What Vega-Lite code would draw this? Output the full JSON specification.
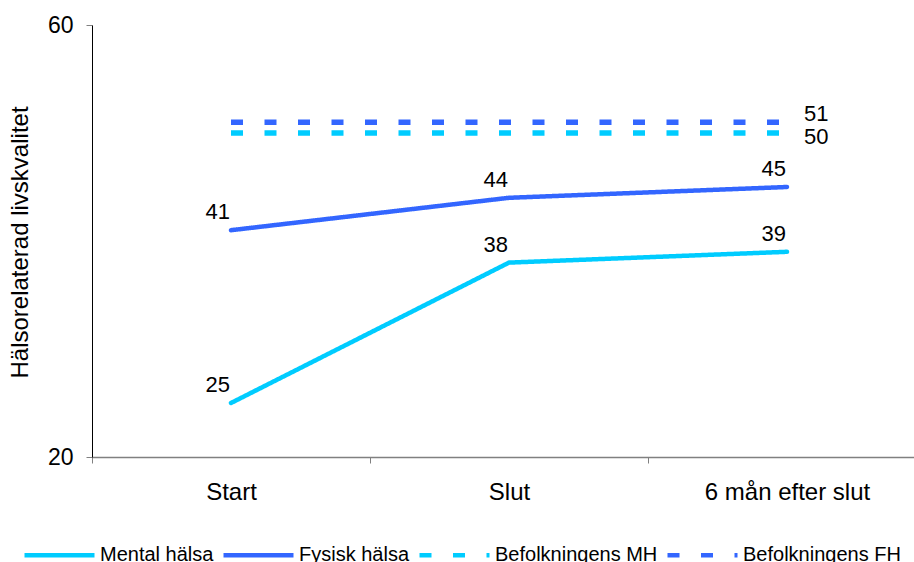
{
  "$schema": "https://vega.github.io/schema/vega-lite/v6.json",
  "width": 822,
  "height": 432,
  "autosize": "none",
  "padding": {"left": 92, "top": 25, "right": 0, "bottom": 105},
  "background": "white",
  "config": {
    "font": "Liberation Sans",
    "view": {"stroke": null},
    "text": {"color": "black"},
    "legend": {
      "orient": "none",
      "legendX": -70,
      "legendY": 492.5,
      "direction": "horizontal",
      "symbolType": "stroke",
      "symbolSize": 4900,
      "symbolStrokeWidth": 4.5,
      "labelFontSize": 20,
      "labelColor": "black",
      "labelOffset": 3,
      "labelLimit": 0,
      "columnPadding": 0,
      "padding": 0
    }
  },
  "data": {
    "values": [
      {"serie": "Mental hälsa", "tid": "Start", "varde": 25},
      {"serie": "Mental hälsa", "tid": "Slut", "varde": 38},
      {"serie": "Mental hälsa", "tid": "6 mån efter slut", "varde": 39},
      {"serie": "Fysisk hälsa", "tid": "Start", "varde": 41},
      {"serie": "Fysisk hälsa", "tid": "Slut", "varde": 44},
      {"serie": "Fysisk hälsa", "tid": "6 mån efter slut", "varde": 45},
      {"serie": "Befolkningens MH", "tid": "Start", "varde": 50},
      {"serie": "Befolkningens MH", "tid": "Slut", "varde": 50},
      {"serie": "Befolkningens MH", "tid": "6 mån efter slut", "varde": 50},
      {"serie": "Befolkningens FH", "tid": "Start", "varde": 51},
      {"serie": "Befolkningens FH", "tid": "Slut", "varde": 51},
      {"serie": "Befolkningens FH", "tid": "6 mån efter slut", "varde": 51}
    ]
  },
  "encoding": {
    "x": {
      "field": "tid",
      "type": "nominal",
      "sort": ["Start", "Slut", "6 mån efter slut"],
      "scale": {"type": "band", "range": [0, 834], "paddingInner": 0, "paddingOuter": 0},
      "axis": {
        "title": null,
        "labelAngle": 0,
        "labelFontSize": 24,
        "labelColor": "black",
        "labelPadding": 17,
        "domainColor": "#808080",
        "domainWidth": 1.5,
        "tickColor": "#808080",
        "tickSize": 6,
        "tickBand": "extent",
        "grid": false
      }
    },
    "y": {
      "field": "varde",
      "type": "quantitative",
      "scale": {"domain": [20, 60], "nice": false, "zero": false},
      "axis": {
        "title": "Hälsorelaterad livskvalitet",
        "titleFontSize": 24,
        "titleFontWeight": "normal",
        "titleColor": "black",
        "titleX": -72,
        "titleY": 217,
        "titleBaseline": "middle",
        "titleAlign": "center",
        "values": [20, 60],
        "labelFontSize": 23,
        "labelColor": "black",
        "labelPadding": 13,
        "domainColor": "black",
        "domainWidth": 1,
        "tickColor": "#808080",
        "tickSize": 6,
        "grid": false
      }
    }
  },
  "layer": [
    {
      "transform": [{"filter": {"field": "serie", "oneOf": ["Befolkningens MH", "Befolkningens FH"]}}],
      "mark": {"type": "line", "strokeWidth": 5.5, "strokeCap": "butt"},
      "encoding": {
        "color": {
          "field": "serie",
          "type": "nominal",
          "title": null,
          "scale": {
            "domain": ["Mental hälsa", "Fysisk hälsa", "Befolkningens MH", "Befolkningens FH"],
            "range": ["#00CCFF", "#3366FF", "#00CCFF", "#3366FF"]
          }
        },
        "strokeDash": {
          "field": "serie",
          "type": "nominal",
          "title": null,
          "scale": {
            "domain": ["Mental hälsa", "Fysisk hälsa", "Befolkningens MH", "Befolkningens FH"],
            "range": [[1, 0], [1, 0], [12, 21.5], [12, 21.5]]
          }
        }
      }
    },
    {
      "transform": [{"filter": {"field": "serie", "oneOf": ["Mental hälsa", "Fysisk hälsa"]}}],
      "mark": {"type": "line", "strokeWidth": 4.5, "strokeCap": "round", "strokeJoin": "round"},
      "encoding": {
        "color": {"field": "serie", "type": "nominal", "title": null},
        "strokeDash": {"field": "serie", "type": "nominal", "title": null}
      }
    },
    {
      "transform": [{"filter": {"field": "serie", "oneOf": ["Mental hälsa", "Fysisk hälsa"]}}],
      "mark": {"type": "text", "align": "right", "baseline": "alphabetic", "dx": -1, "dy": -11, "fontSize": 22},
      "encoding": {"text": {"field": "varde", "type": "quantitative"}}
    },
    {
      "transform": [
        {"filter": {"field": "serie", "equal": "Befolkningens FH"}},
        {"filter": {"field": "tid", "equal": "6 mån efter slut"}}
      ],
      "mark": {"type": "text", "align": "left", "baseline": "middle", "dx": 17, "dy": -8.5, "fontSize": 22},
      "encoding": {"text": {"field": "varde", "type": "quantitative"}}
    },
    {
      "transform": [
        {"filter": {"field": "serie", "equal": "Befolkningens MH"}},
        {"filter": {"field": "tid", "equal": "6 mån efter slut"}}
      ],
      "mark": {"type": "text", "align": "left", "baseline": "middle", "dx": 17, "dy": 3.5, "fontSize": 22},
      "encoding": {"text": {"field": "varde", "type": "quantitative"}}
    }
  ]
}
